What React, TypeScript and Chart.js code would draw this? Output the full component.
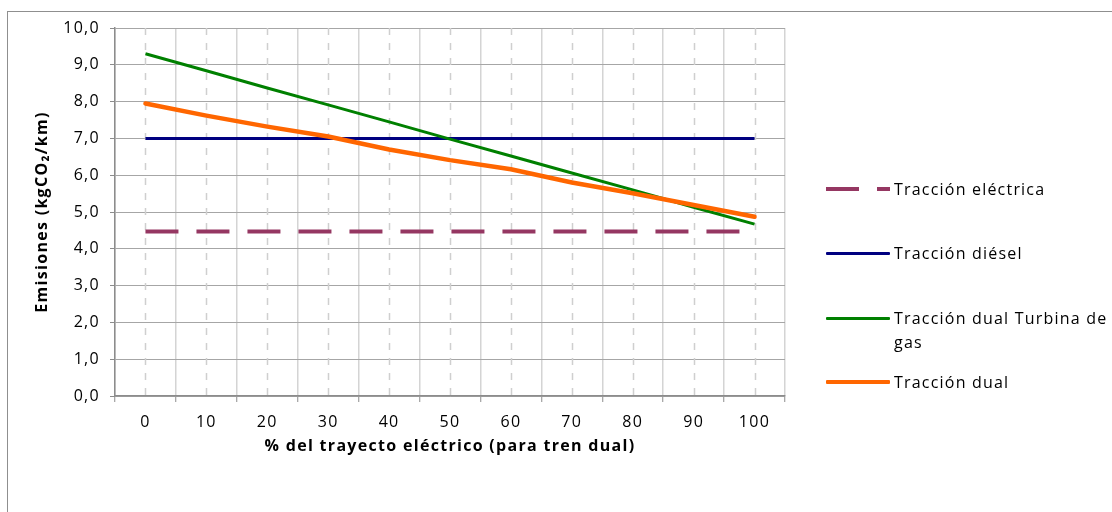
import React, { useEffect, useRef } from "react";
import { Chart, registerables } from "chart.js";

Chart.register(...registerables);

const xLabels = ["0", "10", "20", "30", "40", "50", "60", "70", "80", "90", "100"];
const traccionElectrica = [4.47, 4.47, 4.47, 4.47, 4.47, 4.47, 4.47, 4.47, 4.47, 4.47, 4.47];
const traccionDiesel = [7.0, 7.0, 7.0, 7.0, 7.0, 7.0, 7.0, 7.0, 7.0, 7.0, 7.0];
const traccionTurbina = [9.3, 8.84, 8.37, 7.91, 7.45, 6.98, 6.52, 6.06, 5.6, 5.13, 4.67];
const traccionDual = [7.95, 7.62, 7.32, 7.05, 6.7, 6.41, 6.16, 5.8, 5.51, 5.19, 4.87];

const FONT = "'Open Sans', 'Noto Sans', sans-serif";

const textSpacing = {
  id: "textSpacing",
  beforeDraw(chart: any) {
    (chart.ctx as any).letterSpacing = "1.3px";
  },
};

const dashedCenters = {
  id: "dashedCenters",
  beforeDatasetsDraw(chart: any) {
    const { ctx, chartArea } = chart;
    const xs = chart.scales.x;
    ctx.save();
    ctx.strokeStyle = "#cfcfcf";
    ctx.lineWidth = 1.5;
    ctx.setLineDash([7, 8]);
    for (let i = 0; i < xLabels.length; i++) {
      const x = Math.round(xs.getPixelForValue(i)) + 0.5;
      ctx.beginPath();
      ctx.moveTo(x, chartArea.top);
      ctx.lineTo(x, chartArea.bottom);
      ctx.stroke();
    }
    ctx.restore();
  },
};

function LegendItem({ top, label, color, width, dashed }: any) {
  return (
    <div style={{ position: "absolute", left: 826, top: top, height: 0 }}>
      {dashed ? (
        <>
          <div style={{ position: "absolute", left: 0, top: -width / 2, width: 33, height: width, background: color }} />
          <div style={{ position: "absolute", left: 51, top: -width / 2, width: 13, height: width, background: color }} />
        </>
      ) : (
        <div style={{ position: "absolute", left: 0, top: -width / 2, width: 64, height: width, background: color, borderRadius: 1 }} />
      )}
      <div
        style={{
          position: "absolute",
          left: 68,
          top: -12,
          width: 218,
          fontFamily: FONT,
          fontSize: 16,
          letterSpacing: "1.2px",
          lineHeight: "24px",
          color: "#000",
          whiteSpace: "normal",
        }}
      >
        {label}
      </div>
    </div>
  );
}

export default function App() {
  const ref = useRef<HTMLCanvasElement>(null);
  useEffect(() => {
    const chart = new Chart(ref.current as HTMLCanvasElement, {
      type: "line",
      data: {
        labels: xLabels,
        datasets: [
          {
            label: "Tracción eléctrica",
            data: traccionElectrica,
            borderColor: "#953762",
            borderWidth: 4,
            borderDash: [33, 18],
            borderCapStyle: "butt",
            pointRadius: 0,
            order: 3,
          },
          {
            label: "Tracción diésel",
            data: traccionDiesel,
            borderColor: "#000080",
            borderWidth: 3,
            pointRadius: 0,
            order: 2,
          },
          {
            label: "Tracción dual Turbina de gas",
            data: traccionTurbina,
            borderColor: "#008000",
            borderWidth: 3,
            pointRadius: 0,
            order: 1,
          },
          {
            label: "Tracción dual",
            data: traccionDual,
            borderColor: "#ff6600",
            borderWidth: 4.5,
            borderCapStyle: "round",
            pointRadius: 0,
            order: 0,
          },
        ],
      },
      options: {
        animation: false,
        responsive: false,
        maintainAspectRatio: false,
        layout: { padding: { left: 33, top: 28, right: 327, bottom: 56 } },
        plugins: { legend: { display: false }, tooltip: { enabled: false } },
        scales: {
          x: {
            type: "category",
            offset: true,
            grid: {
              offset: true,
              color: "#d4d4d4",
              lineWidth: 1.5,
              drawTicks: true,
              tickLength: 6,
              tickColor: "#8c8c8c",
              tickWidth: 1,
            },
            border: { color: "#8c8c8c", width: 1.5 },
            ticks: { font: { family: FONT, size: 16 }, color: "#000", padding: 11, maxRotation: 0 },
            title: {
              display: true,
              text: "% del trayecto eléctrico (para tren dual)",
              font: { family: FONT, size: 16, weight: "bold" },
              color: "#000",
              padding: 0,
            },
            afterFit: (s: any) => {
              s.height = 60;
            },
          },
          y: {
            min: 0,
            max: 10,
            grid: {
              color: "#a6a6a6",
              lineWidth: 1,
              drawTicks: true,
              tickLength: 5,
              tickColor: "#8c8c8c",
            },
            border: { color: "#8c8c8c", width: 1.5 },
            ticks: {
              stepSize: 1,
              font: { family: FONT, size: 16 },
              color: "#000",
              padding: 10,
              callback: (v: any) => Number(v).toFixed(1).replace(".", ","),
            },
            title: {
              display: true,
              text: "Emisiones (kgCO₂/km)",
              font: { family: FONT, size: 16, weight: "bold" },
              color: "#000",
              padding: 0,
            },
            afterFit: (s: any) => {
              s.width = 82;
            },
          },
        },
      } as any,
      plugins: [textSpacing, dashedCenters],
    });
    return () => chart.destroy();
  }, []);

  return (
    <div style={{ position: "absolute", left: 0, top: 0, width: 1112, height: 512, overflow: "hidden", background: "#fff" }}>
      <div
        style={{
          position: "absolute",
          left: 7,
          top: 11,
          width: 1200,
          height: 600,
          borderLeft: "1.5px solid #8f8f8f",
          borderTop: "1.5px solid #8f8f8f",
        }}
      />
      <canvas ref={ref} width={1112} height={512} style={{ position: "absolute", left: 0, top: 0, width: 1112, height: 512 }} />
      <LegendItem top={189} label="Tracción eléctrica" color="#953762" width={4} dashed />
      <LegendItem top={253} label="Tracción diésel" color="#000080" width={3} />
      <LegendItem top={318} label="Tracción dual Turbina de gas" color="#008000" width={3} />
      <LegendItem top={382} label="Tracción dual" color="#ff6600" width={4} />
    </div>
  );
}
